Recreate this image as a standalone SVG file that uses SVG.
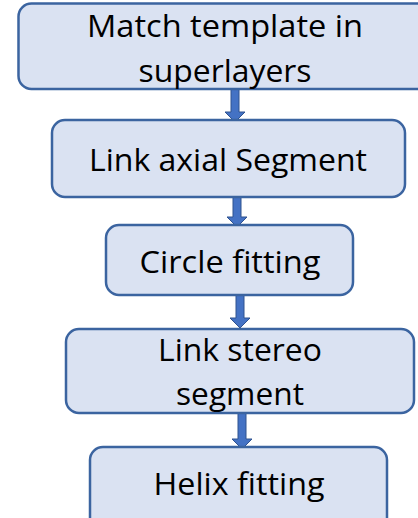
<svg xmlns="http://www.w3.org/2000/svg" width="418" height="518" viewBox="0 0 418 518">
<style>
.box{fill:#DAE2F2;stroke:#3B64A0;stroke-width:2.5}
.lbl{font-family:"Open Sans","Noto Sans","Liberation Sans",sans-serif;font-size:31px;fill:#000;text-anchor:middle;font-variant-ligatures:none}
.arr{fill:#4472C4;stroke:#2F528F;stroke-width:1}
</style>
<rect width="418" height="518" fill="#fff"/>
<g id="connectors">
<polygon class="arr" points="231,89 239,89 239,112 245,112 235,122 225,112 231,112"/>
<polygon class="arr" points="233,197 241,197 241,217 247,217 237,227 227,217 233,217"/>
<polygon class="arr" points="236,295 244,295 244,318 250,318 240,328 230,318 236,318"/>
<polygon class="arr" points="238,413 246,413 246,439 252,439 242,449 232,439 238,439"/>
</g>
<g id="n1">
<rect class="box" x="18.5" y="3.5" width="420" height="85.5" rx="13"/>
<text class="lbl" x="225" y="37" textLength="276" lengthAdjust="spacingAndGlyphs">Match template in</text>
<text class="lbl" x="225" y="82" textLength="173" lengthAdjust="spacingAndGlyphs">superlayers</text>
</g>
<g id="n2">
<rect class="box" x="52" y="120" width="353" height="77" rx="13"/>
<text class="lbl" x="228" y="171" textLength="278" lengthAdjust="spacingAndGlyphs">Link axial Segment</text>
</g>
<g id="n3">
<rect class="box" x="106" y="225" width="247" height="70" rx="13"/>
<text class="lbl" x="230" y="273" textLength="181" lengthAdjust="spacingAndGlyphs">Circle fitting</text>
</g>
<g id="n4">
<rect class="box" x="66" y="329" width="348" height="84" rx="13"/>
<text class="lbl" x="240" y="361" textLength="164" lengthAdjust="spacingAndGlyphs">Link stereo</text>
<text class="lbl" x="240" y="405" textLength="128" lengthAdjust="spacingAndGlyphs">segment</text>
</g>
<g id="n5">
<rect class="box" x="90" y="447" width="297" height="90" rx="13"/>
<text class="lbl" x="239" y="495" textLength="171" lengthAdjust="spacingAndGlyphs">Helix fitting</text>
</g>
</svg>
